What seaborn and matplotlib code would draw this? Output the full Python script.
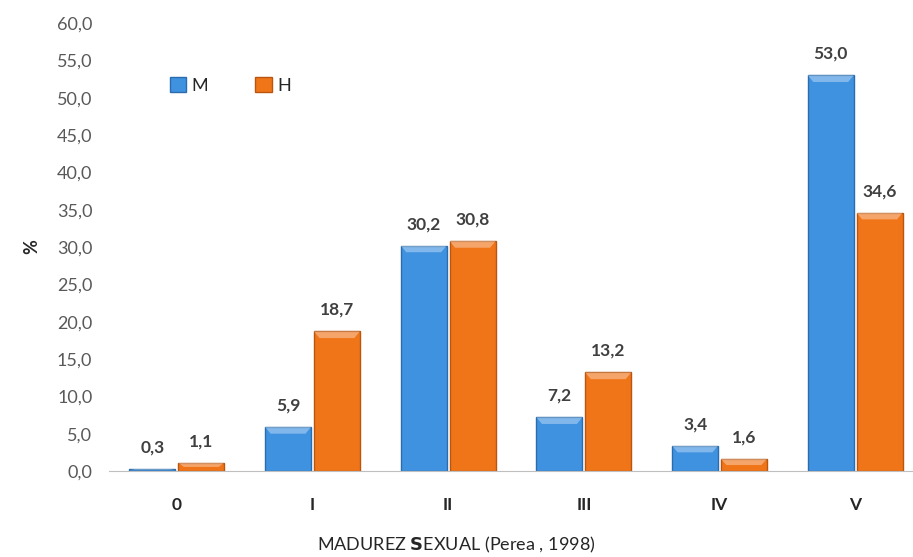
import pandas as pd
import numpy as np
import matplotlib
matplotlib.use('Agg')
import matplotlib.pyplot as plt
import seaborn as sns
from matplotlib.patches import Patch

# Data
STAGES = ['0', 'I', 'II', 'III', 'IV', 'V']
M_VALS = [0.3, 5.9, 30.2, 7.2, 3.4, 53.0]
H_VALS = [1.1, 18.7, 30.8, 13.2, 1.6, 34.6]
SEXES = ['M', 'H']
COLORS = {'M': '#3f92e0', 'H': '#f07519'}
EDGES = {'M': '#2a6cad', 'H': '#b8560f'}

df = pd.DataFrame({
    'stage': STAGES * 2,
    'sex': ['M'] * len(STAGES) + ['H'] * len(STAGES),
    'pct': M_VALS + H_VALS,
})

sns.set_style('white')
plt.rcParams['font.family'] = ['Lato', 'DejaVu Sans']

fig = plt.figure(figsize=(9.13, 5.57), dpi=100)
ax = fig.add_axes([109 / 913, 1 - 471 / 557, 814 / 913, 448 / 557])

sns.barplot(data=df, x='stage', y='pct', hue='sex', order=STAGES,
            hue_order=SEXES, palette=COLORS, saturation=1, width=0.72, gap=0.06,
            ax=ax, legend=False)

# colour edges and add a light bevel strip on top of each bar
n = len(STAGES)
for i, bar in enumerate(ax.patches[:2 * n]):
    s = SEXES[i // n]
    bar.set_edgecolor(EDGES[s])
    bar.set_linewidth(1.0)
    x0, w, h = bar.get_x(), bar.get_width(), bar.get_height()
    band = min(0.9, h * 0.5)
    ax.fill([x0, x0 + w, x0 + w * 0.88, x0 + w * 0.12], [h, h, h - band, h - band],
            color='white', alpha=0.35, lw=0, zorder=3)
    ax.text(x0 + w / 2, h + 1.8, f'{h:.1f}'.replace('.', ','), ha='center',
            va='bottom', fontsize=12.5, fontweight='bold', color='#404040')

ax.set_ylim(0, 60)
ax.set_xlim(-0.5, 5.5)
yt = np.arange(0, 61, 5)
ax.set_yticks(yt)
ax.set_yticklabels([f'{v:.1f}'.replace('.', ',') for v in yt], fontsize=13, color='#595959')
ax.set_xticks(range(n))
ax.set_xticklabels(STAGES, fontsize=12.5, fontweight='bold', color='#262626')
ax.tick_params(axis='x', length=0, pad=19)
ax.tick_params(axis='y', length=0, pad=12)

for sp in ['top', 'right', 'left']:
    ax.spines[sp].set_visible(False)
ax.spines['bottom'].set_color('#bfbfbf')

ax.set_ylabel('%', fontsize=13, fontweight='bold', color='#262626', labelpad=12)
ax.set_xlabel('')
fig.text(456 / 913, 1 - 545 / 557, 'MADUREZ $\\bf{S}$EXUAL (Perea , 1998)',
         ha='center', va='center', fontsize=13, color='#262626')

# legend
handles = [Patch(facecolor=COLORS[s], edgecolor=EDGES[s]) for s in SEXES]
ax.legend(handles, SEXES, loc='upper left', bbox_to_anchor=(0.055, 0.915), ncol=2,
          frameon=False, fontsize=13, handlelength=0.9, handleheight=0.9,
          columnspacing=2.6, handletextpad=0.3)

fig.savefig('out.png', dpi=100)
